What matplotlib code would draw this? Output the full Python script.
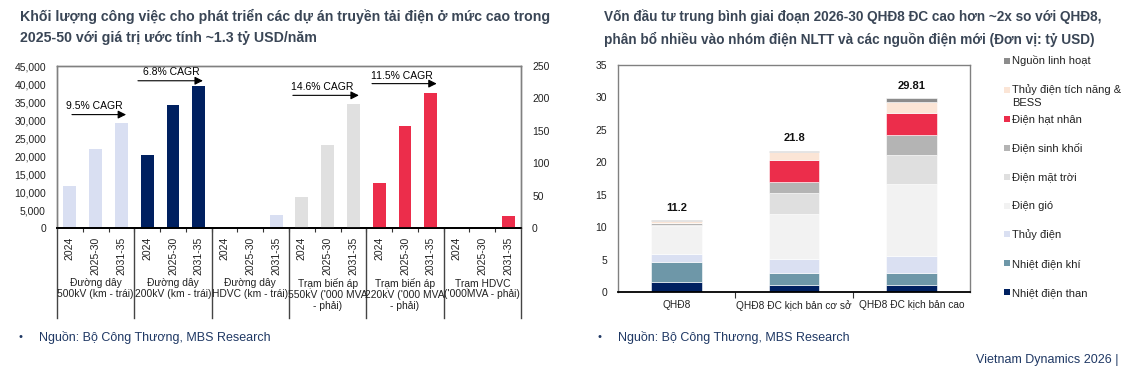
import numpy as np
import matplotlib
matplotlib.use("Agg")
import matplotlib.pyplot as plt
from matplotlib.patches import Rectangle
import matplotlib.transforms as mtransforms

plt.rcParams['font.family'] = ['Liberation Sans', 'DejaVu Sans']

# ---- left chart data ----
periods = ['2024', '2025-30', '2031-35']
groups = ['Đường dây\n500kV (km - trái)', 'Đường dây\n200kV (km - trái)', 'Đường dây\nHDVC (km - trái)',
          "Trạm biến áp\n550kV ('000 MVA\n- phải)", "Trạm biến áp\n220kV ('000 MVA\n- phải)",
          "Trạm HDVC\n('000MVA - phải)"]
line_500kv = [11600, 22000, 29100]
line_200kv = [20400, 34100, 39400]
line_hdvc = [0, 0, 3700]
tba_550kv = [48, 128, 191]
tba_220kv = [70, 157, 209]
tram_hdvc = [0, 0, 19]
cagr_labels = ['9.5% CAGR', '6.8% CAGR', '14.6% CAGR', '11.5% CAGR']

# ---- right chart data ----
scenarios = ['QHĐ8', 'QHĐ8 ĐC kịch bản cơ sở', 'QHĐ8 ĐC kịch bản cao']
totals = ['11.2', '21.8', '29.81']
nd_than = [1.59, 1.13, 1.13]
nd_khi = [3.08, 1.75, 1.75]
thuy_dien = [1.18, 2.21, 2.67]
dien_gio = [4.37, 6.89, 11.10]
dien_mat_troi = [0.10, 3.24, 4.47]
dien_sinh_khoi = [0.35, 1.75, 3.03]
dien_hat_nhan = [0.0, 3.39, 3.44]
tich_nang_bess = [0.25, 1.18, 1.75]
linh_hoat = [0.15, 0.26, 0.51]

series = [
    ('Nhiệt điện than', nd_than, '#002060'),
    ('Nhiệt điện khí', nd_khi, '#6E97A8'),
    ('Thủy điện', thuy_dien, '#DAE0F2'),
    ('Điện gió', dien_gio, '#F2F2F2'),
    ('Điện mặt trời', dien_mat_troi, '#DFDFDF'),
    ('Điện sinh khối', dien_sinh_khoi, '#B4B4B4'),
    ('Điện hạt nhân', dien_hat_nhan, '#EC2D4B'),
    ('Thủy điện tích năng &\nBESS', tich_nang_bess, '#FBE5D6'),
    ('Nguồn linh hoạt', linh_hoat, '#8C8C8C'),
]

W, H = 1122, 373
fig = plt.figure(figsize=(W / 100, H / 100), dpi=100)


def fx(px):
    return px / W


def fy(py):
    return 1 - py / H


title_col = '#3A4656'
navy = '#1F3864'
spine_col = '#808080'

# ================= left chart =================
ax = fig.add_axes([fx(57), fy(228), fx(521) - fx(57), fy(66) - fy(228)])
ax2 = ax.twinx()

left_sets = [(line_500kv, '#D9DFF2'), (line_200kv, '#002060'), (line_hdvc, '#D9DFF2')]
right_sets = [(tba_550kv, '#E0E0E0'), (tba_220kv, '#EC2D4B'), (tram_hdvc, '#EC2D4B')]
for g, (vals, c) in enumerate(left_sets):
    ax.bar(np.arange(3) + 3 * g, vals, width=0.5, color=c)
for g, (vals, c) in enumerate(right_sets):
    ax2.bar(np.arange(3) + 3 * (g + 3), vals, width=0.5, color=c)

ax.set_xlim(-0.5, 17.5)
ax.set_ylim(0, 45000)
ax2.set_ylim(0, 250)
ax.set_yticks(np.arange(0, 45001, 5000))
ax.set_yticklabels([f'{v:,}' for v in range(0, 45001, 5000)])
ax2.set_yticks(np.arange(0, 251, 50))
ax.tick_params(axis='y', length=0, pad=8, labelsize=7.5, labelcolor='#222222')
ax2.tick_params(axis='y', length=0, pad=8, labelsize=7.5, labelcolor='#222222')
ax.set_xticks(np.arange(18))
ax.set_xticklabels(periods * 6, rotation=90, fontsize=7.5, color='#222222')
ax.set_xticks(np.arange(17) + 0.5, minor=True)
ax.tick_params(axis='x', which='major', length=0, pad=6)
ax.tick_params(axis='x', which='minor', length=3, width=0.8, direction='out', color='#333333')

for a in (ax, ax2):
    for s in ('top', 'left', 'right'):
        a.spines[s].set_color(spine_col)
        a.spines[s].set_linewidth(1)
    a.spines['bottom'].set_color('black')
    a.spines['bottom'].set_linewidth(1.3)

trans = mtransforms.blended_transform_factory(ax.transData, ax.transAxes)
for b in np.arange(-0.5, 18, 3):
    ax.plot([b, b], [0, -0.555], transform=trans, color='#444444', lw=1, clip_on=False)
for g, name in enumerate(groups):
    ax.text(3 * g + 1, -0.31, name, transform=trans, ha='center', va='top', fontsize=7.4,
            color='#222222', linespacing=1.1)

# CAGR arrows
arrow = dict(arrowstyle='-|>', color='black', lw=0.8, mutation_scale=12, shrinkA=0, shrinkB=0)
ax.annotate('', xy=(2.18, 31500), xytext=(0.08, 31500), arrowprops=arrow)
ax.text(-0.15, 33900, cagr_labels[0], fontsize=7.5, va='center', ha='left')
ax.annotate('', xy=(5.16, 40900), xytext=(2.64, 40900), arrowprops=arrow)
ax.text(2.84, 43300, cagr_labels[1], fontsize=7.5, va='center', ha='left')
ax2.annotate('', xy=(11.21, 204.7), xytext=(8.65, 204.7), arrowprops=arrow)
ax2.text(8.56, 218, cagr_labels[2], fontsize=7.5, va='center', ha='left')
ax2.annotate('', xy=(14.23, 222.8), xytext=(11.72, 222.8), arrowprops=arrow)
ax2.text(11.67, 234.5, cagr_labels[3], fontsize=7.5, va='center', ha='left')

# ================= right chart =================
bx = fig.add_axes([fx(618), fy(292), fx(970) - fx(618), fy(65) - fy(292)])
x = np.arange(len(scenarios))
bottom = np.zeros(len(scenarios))
for name, vals, c in series:
    bx.bar(x, vals, bottom=bottom, width=0.43, color=c, edgecolor='white', linewidth=0.4)
    bottom += np.array(vals)
for i, t in enumerate(totals):
    bx.annotate(t, (x[i], bottom[i]), xytext=(0, 9), textcoords='offset points',
                ha='center', va='center', fontsize=8, fontweight='bold', color='#111111')

bx.set_xlim(-0.5, 2.5)
bx.set_ylim(0, 35)
bx.set_yticks(np.arange(0, 36, 5))
bx.tick_params(axis='y', length=0, pad=8, labelsize=7.5, labelcolor='#222222')
bx.set_xticks(x)
bx.set_xticklabels(scenarios, fontsize=7.3, color='#222222')
bx.set_xticks([0.5, 1.5], minor=True)
bx.tick_params(axis='x', which='major', length=0, pad=6)
bx.tick_params(axis='x', which='minor', length=4, width=0.8, direction='out', color='#333333')
for s in ('top', 'left', 'right'):
    bx.spines[s].set_color(spine_col)
    bx.spines[s].set_linewidth(1)
bx.spines['bottom'].set_color('black')
bx.spines['bottom'].set_linewidth(1.3)

# legend (top to bottom), one text per line so the first line sits next to the square
for k, (name, vals, c) in enumerate(series[::-1]):
    yc = 61 + k * 28.9
    fig.add_artist(Rectangle((fx(1004), fy(yc + 3)), fx(6), fy(0) - fy(6), transform=fig.transFigure,
                             facecolor=c, edgecolor='none'))
    for j, part in enumerate(name.split('\n')):
        fig.text(fx(1012), fy(yc + 3.5 + 12.5 * j), part, fontsize=8, va='baseline', ha='left',
                 color='#222222')

# ================= titles and notes =================
fig.text(fx(20), fy(9), 'Khối lượng công việc cho phát triển các dự án truyền tải điện ở mức cao trong\n'
         '2025-50 với giá trị ước tính ~1.3 tỷ USD/năm', fontsize=10.2, fontweight='bold',
         color=title_col, va='top', ha='left', linespacing=1.65)
fig.text(fx(604), fy(9), 'Vốn đầu tư trung bình giai đoạn 2026-30 QHĐ8 ĐC cao hơn ~2x so với QHĐ8,\n'
         'phân bổ nhiều vào nhóm điện NLTT và các nguồn điện mới (Đơn vị: tỷ USD)', fontsize=9.8,
         fontweight='bold', color=title_col, va='top', ha='left', linespacing=1.7)

for x0 in (18, 597):
    fig.text(fx(x0), fy(337), '•', fontsize=8, color=navy, va='center', ha='left')
    fig.text(fx(x0 + 21), fy(337), 'Nguồn: Bộ Công Thương, MBS Research', fontsize=9, color=navy,
             va='center', ha='left')
fig.text(fx(1118), fy(360), 'Vietnam Dynamics 2026 |', fontsize=9, color=navy, va='center', ha='right')

fig.savefig('out.png', dpi=100)
